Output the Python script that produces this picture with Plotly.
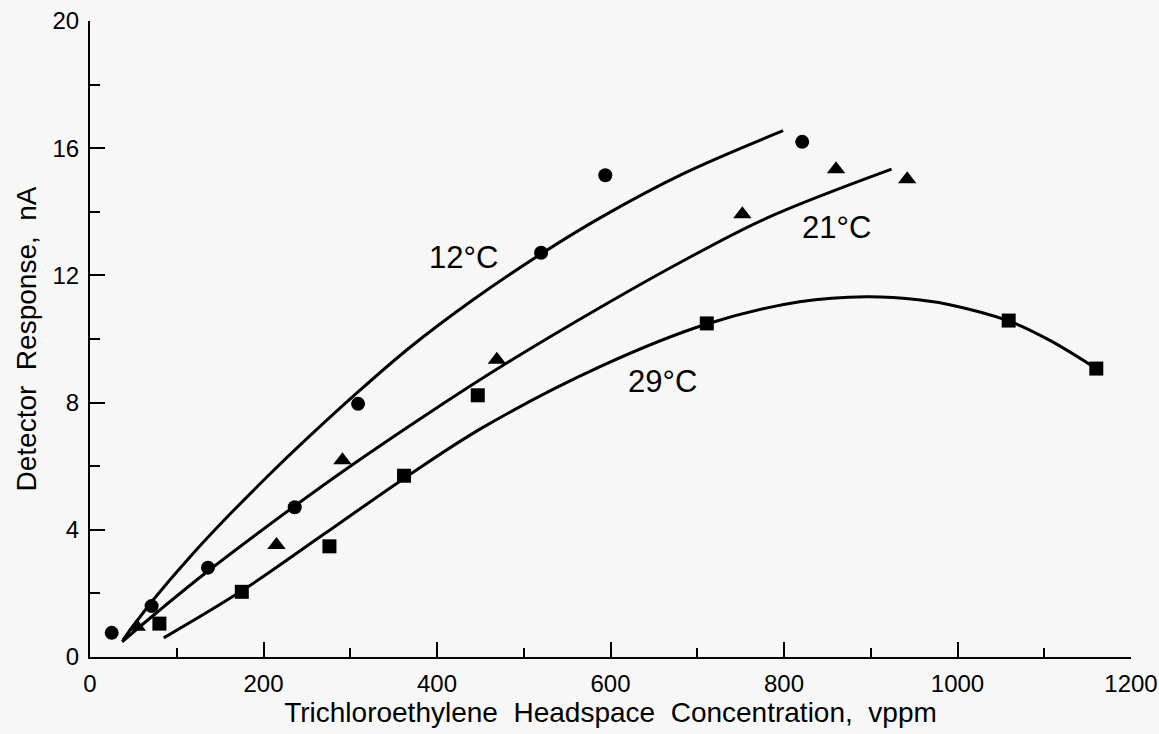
import plotly.graph_objects as go

# measured points
conc_12 = [25, 71, 136, 236, 309, 520, 594, 821]
resp_12 = [0.76, 1.6, 2.81, 4.71, 7.96, 12.71, 15.15, 16.2]

conc_21 = [54, 215, 291, 469, 752, 860, 942]
resp_21 = [0.95, 3.52, 6.19, 9.35, 13.92, 15.34, 15.02]

conc_29 = [80, 175, 276, 362, 447, 711, 1059, 1160]
resp_29 = [1.05, 2.05, 3.48, 5.7, 8.23, 10.49, 10.58, 9.07]

# fitted curves
fit12_x = [38, 73, 115, 162, 208, 242, 308, 369, 442, 519, 588, 684, 799]
fit12_y = [0.54, 1.80, 3.14, 4.51, 5.77, 6.66, 8.31, 9.74, 11.24, 12.66, 13.81, 15.20, 16.55]

fit21_x = [37, 77, 135, 235, 300, 396, 473, 588, 684, 780, 924]
fit21_y = [0.48, 1.40, 2.68, 4.73, 6.00, 7.77, 9.12, 10.99, 12.46, 13.80, 15.34]

fit29_x = [85, 175, 269, 365, 453, 588, 711, 818, 895, 957, 991, 1059, 1107, 1160]
fit29_y = [0.60, 2.08, 3.85, 5.67, 7.22, 9.13, 10.47, 11.17, 11.33, 11.23, 11.08, 10.57, 9.95, 9.07]

labels = ["12°C", "21°C", "29°C"]
label_x = [430, 861, 660]
label_y = [12.55, 13.5, 8.65]

x_ticks = [0, 200, 400, 600, 800, 1000, 1200]
y_ticks = [0, 4, 8, 12, 16, 20]

FONT = "Arial, 'Liberation Sans', Helvetica, sans-serif"
BG = "#f7f7f7"

fig = go.Figure()
for fx, fy in [(fit12_x, fit12_y), (fit21_x, fit21_y), (fit29_x, fit29_y)]:
    fig.add_trace(go.Scatter(x=fx, y=fy, mode="lines",
                             line=dict(color="black", width=3, shape="spline", smoothing=1.0),
                             showlegend=False, hoverinfo="skip"))

fig.add_trace(go.Scatter(x=conc_12, y=resp_12, mode="markers", name="12°C",
                         marker=dict(symbol="circle", size=14, color="black"), showlegend=False))
fig.add_trace(go.Scatter(x=conc_21, y=resp_21, mode="markers", name="21°C",
                         marker=dict(symbol="triangle-up", size=16, color="black"), showlegend=False))
fig.add_trace(go.Scatter(x=conc_29, y=resp_29, mode="markers", name="29°C",
                         marker=dict(symbol="square", size=14, color="black"), showlegend=False))

for t, ax_, ay_ in zip(labels, label_x, label_y):
    fig.add_annotation(x=ax_, y=ay_, text=t, showarrow=False,
                       font=dict(family=FONT, size=31, color="black"))

fig.update_layout(
    width=1159, height=734,
    margin=dict(l=90, r=28, t=21, b=77),
    paper_bgcolor=BG, plot_bgcolor=BG,
    font=dict(family=FONT, color="black"),
    xaxis=dict(
        range=[0, 1200], tickvals=x_ticks, ticktext=[str(v) for v in x_ticks],
        automargin=False,
        ticks="inside", ticklen=15, tickwidth=2, tickcolor="black",
        showline=True, linewidth=2, linecolor="black", mirror=False,
        showgrid=False, zeroline=False,
        tickfont=dict(size=24, family=FONT, color="black"),
        ticklabelstandoff=4,
        minor=dict(dtick=100, ticks="inside", ticklen=9, tickwidth=2, tickcolor="black", showgrid=False),
        title=dict(text="Trichloroethylene\u00a0 Headspace\u00a0 Concentration,\u00a0 vppm",
                   font=dict(size=28, family=FONT, color="black"), standoff=6),
    ),
    yaxis=dict(
        range=[0, 20], tickvals=y_ticks, ticktext=[str(v) for v in y_ticks],
        automargin=False,
        ticks="inside", ticklen=15, tickwidth=2, tickcolor="black",
        showline=True, linewidth=2, linecolor="black", mirror=False,
        showgrid=False, zeroline=False,
        tickfont=dict(size=24, family=FONT, color="black"),
        ticklabelstandoff=4,
        minor=dict(dtick=2, ticks="inside", ticklen=10, tickwidth=2, tickcolor="black", showgrid=False),
        title=dict(text="Detector\u00a0 Response,\u00a0 nA",
                   font=dict(size=28, family=FONT, color="black"), standoff=8),
    ),
)

fig.write_html("out.html")
